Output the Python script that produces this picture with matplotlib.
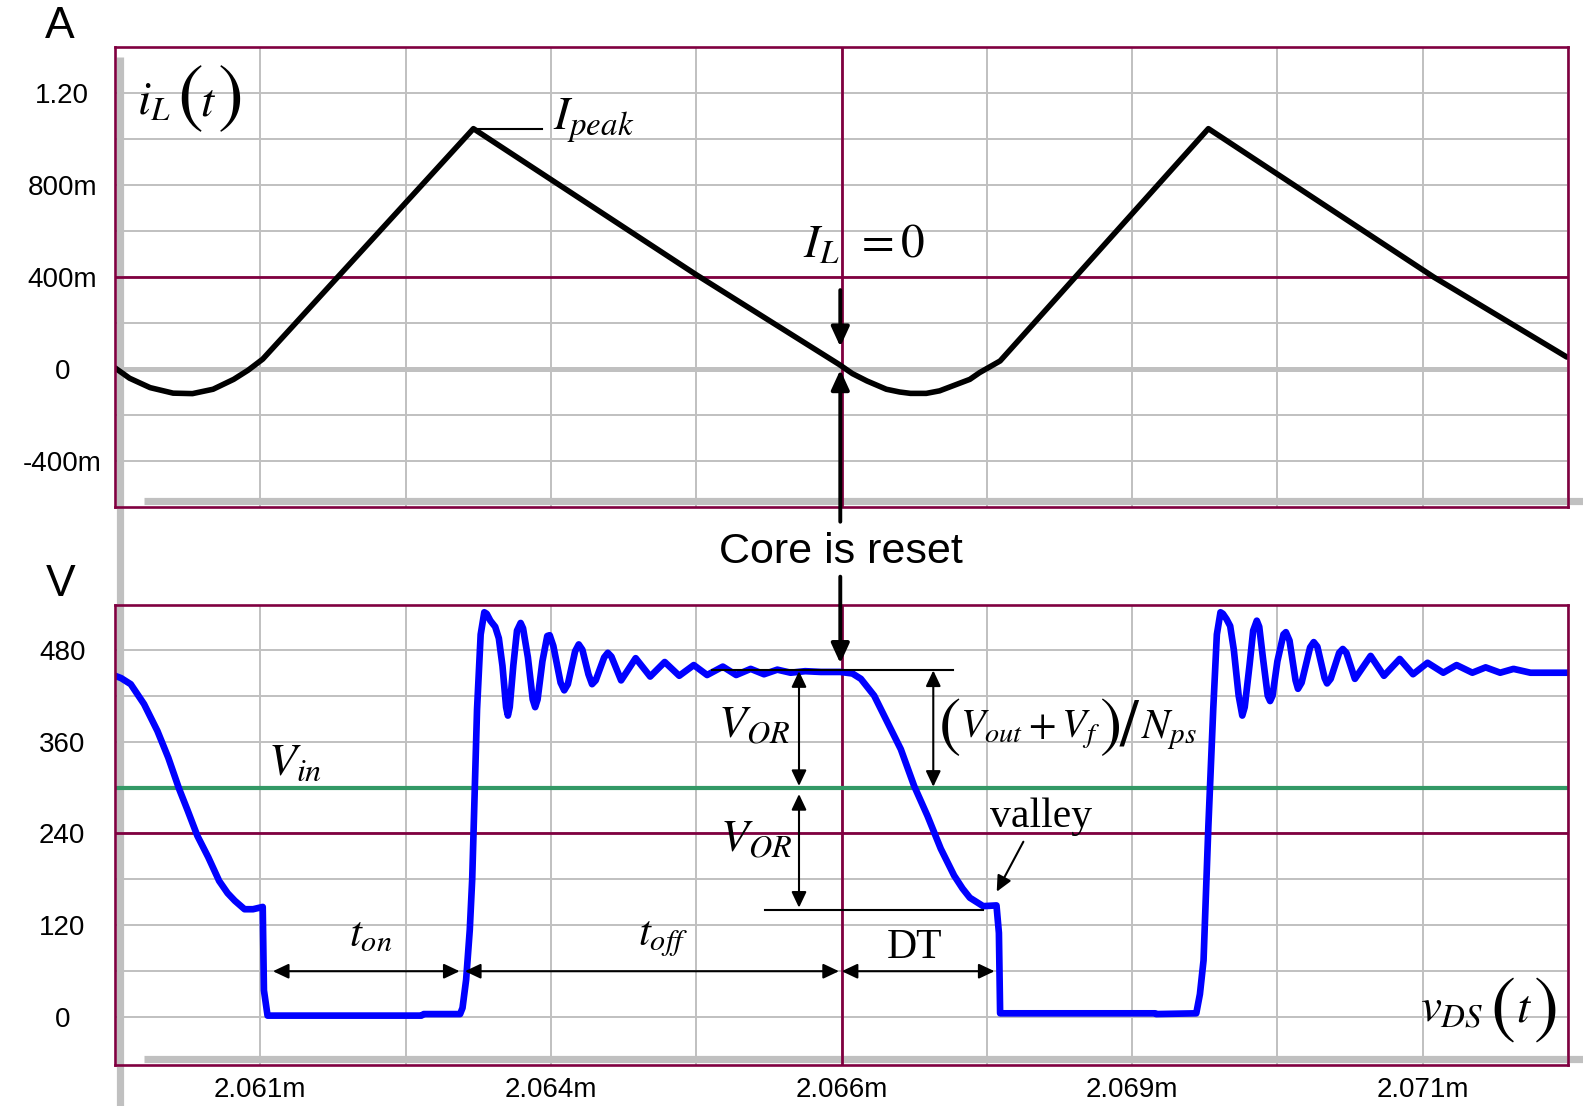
import matplotlib
matplotlib.use("Agg")
import matplotlib.pyplot as plt

plt.rcParams["font.family"] = ["Liberation Sans", "DejaVu Sans"]
plt.rcParams["mathtext.fontset"] = "stix"

W, H, DPI = 1583, 1106, 100

# ---------------- data (time in microseconds) ----------------
# inductor current i_L(t) [A]
t_il = [2060.20, 2060.32, 2060.49, 2060.68, 2060.84, 2061.01, 2061.18, 2061.30, 2061.42,
        2063.16, 2065.00, 2066.18, 2066.29, 2066.41, 2066.57, 2066.68, 2066.77, 2066.90,
        2067.01, 2067.15, 2067.26, 2067.34, 2067.51, 2069.23, 2071.09, 2072.19]
i_l = [0.005, -0.040, -0.081, -0.105, -0.107, -0.088, -0.045, -0.005, 0.043,
       1.045, 0.410, 0.020, -0.020, -0.052, -0.088, -0.100, -0.106, -0.106,
       -0.095, -0.067, -0.045, -0.016, 0.035, 1.045, 0.400, 0.052]

# drain-source voltage v_DS(t) [V], by segment
t_fall1 = [2060.20, 2060.25, 2060.33, 2060.44, 2060.55, 2060.64, 2060.73, 2060.80, 2060.88,
           2060.97, 2061.06, 2061.13, 2061.19, 2061.27, 2061.34, 2061.42, 2061.43, 2061.46]
v_fall1 = [446, 443, 435, 409, 374, 339, 298, 270, 237, 209, 178, 162, 152, 141, 141, 144, 35, 2]
t_on1 = [2062.73, 2062.75, 2063.05, 2063.07, 2063.10, 2063.13, 2063.15, 2063.19, 2063.22]
v_on1 = [2, 4, 4, 12, 49, 114, 180, 402, 500]
t_ring1 = [2063.25, 2063.27, 2063.30, 2063.34, 2063.37, 2063.40, 2063.43, 2063.445, 2063.46,
           2063.49, 2063.52, 2063.55, 2063.57, 2063.61, 2063.65, 2063.67, 2063.69, 2063.73,
           2063.77, 2063.79, 2063.82, 2063.88, 2063.91, 2063.94, 2064.00, 2064.03, 2064.06,
           2064.11, 2064.14, 2064.17, 2064.24, 2064.27, 2064.30, 2064.38, 2064.50, 2064.62,
           2064.74, 2064.86, 2064.98, 2065.09, 2065.22, 2065.33, 2065.45, 2065.56, 2065.67,
           2065.78, 2065.90, 2066.03, 2066.19]
v_ring1 = [529, 527, 518, 510, 495, 459, 405, 394, 405, 460, 505, 515, 508, 470, 415, 405,
           415, 465, 498, 499, 485, 437, 427, 435, 478, 487, 480, 448, 435, 440, 470, 476, 471,
           440, 469, 445, 464, 446, 460, 447, 458, 447, 455, 448, 454, 450, 452, 451, 451]
t_fall2 = [2066.29, 2066.36, 2066.47, 2066.58, 2066.69, 2066.80, 2066.91, 2067.02, 2067.13,
           2067.20, 2067.26, 2067.37, 2067.48, 2067.50, 2067.51]
v_fall2 = [449, 442, 420, 385, 350, 302, 263, 220, 185, 168, 156, 145, 146, 110, 5]
t_on2 = [2068.79, 2068.80, 2069.13, 2069.16, 2069.19, 2069.23, 2069.27, 2069.30]
v_on2 = [5, 4, 5, 30, 74, 250, 402, 500]
t_ring2 = [2069.33, 2069.35, 2069.38, 2069.41, 2069.44, 2069.48, 2069.51, 2069.53, 2069.57,
           2069.60, 2069.63, 2069.65, 2069.68, 2069.72, 2069.74, 2069.76, 2069.80, 2069.85,
           2069.87, 2069.90, 2069.95, 2069.97, 2070.00, 2070.07, 2070.10, 2070.13, 2070.19,
           2070.21, 2070.24, 2070.31, 2070.34, 2070.37, 2070.44, 2070.57, 2070.68, 2070.81,
           2070.92, 2071.04, 2071.17, 2071.28, 2071.41, 2071.52, 2071.64, 2071.75, 2071.89,
           2072.20]
v_ring2 = [529, 527, 520, 511, 480, 420, 394, 405, 460, 505, 518, 510, 470, 420, 413, 420,
           465, 500, 503, 492, 440, 429, 437, 483, 490, 484, 443, 436, 442, 476, 481, 476,
           442, 472, 446, 468, 448, 463, 450, 460, 450, 457, 450, 455, 450, 450]

t_vds = t_fall1 + t_on1 + t_ring1 + t_fall2 + t_on2 + t_ring2
v_ds = v_fall1 + v_on1 + v_ring1 + v_fall2 + v_on2 + v_ring2

v_in = 300
cursor_t = 2066.2
cursor_i = 0.4
cursor_v = 240

x_lim = (2060.2, 2072.2)
x_grid = [2061.4, 2062.6, 2063.8, 2065.0, 2066.2, 2067.4, 2068.6, 2069.8, 2071.0, 2072.2]
x_labels = ["2.061m", "", "2.064m", "", "2.066m", "", "2.069m", "", "2.071m", ""]
i_grid = [-0.4, -0.2, 0.0, 0.2, 0.4, 0.6, 0.8, 1.0, 1.2]
i_labels = ["-400m", "", "0", "", "400m", "", "800m", "", "1.20"]
v_grid = [0, 60, 120, 180, 240, 300, 360, 420, 480]
v_labels = ["0", "", "120", "", "240", "", "360", "", "480"]

MAROON = "#800040"
GRID = "#c0c0c0"
GREEN = "#339966"

fig = plt.figure(figsize=(W / DPI, H / DPI), dpi=DPI)
fig.patch.set_facecolor("white")
ax1 = fig.add_axes([115 / W, 1 - 507 / H, 1453 / W, 460 / H])
ax2 = fig.add_axes([115 / W, 1 - 1064.6 / H, 1453 / W, 460 / H])

for ax, ylim, yg, yl in ((ax1, (-0.6, 1.4), i_grid, i_labels), (ax2, (-62, 539), v_grid, v_labels)):
    ax.set_xlim(*x_lim)
    ax.set_ylim(*ylim)
    ax.set_xticks(x_grid)
    ax.set_yticks(yg)
    ax.set_yticklabels(yl)
    ax.grid(True, color=GRID, lw=1.4, zorder=0)
    ax.set_axisbelow(True)
    ax.tick_params(axis="both", length=0, labelsize=20)
    ax.tick_params(axis="y", pad=38)
    for lab in ax.get_yticklabels():
        lab.set_ha("center")
    for s in ax.spines.values():
        s.set_color(MAROON)
        s.set_linewidth(1.9)
        s.set_zorder(4)

ax1.set_xticklabels([""] * len(x_grid))
ax2.set_xticklabels(x_labels)
ax2.tick_params(axis="x", pad=9)

# axis-like gray bars
t_bar = 2060.245
ax1.plot([t_bar, t_bar], [1.3565, -1.024], color=GRID, lw=5.2, solid_capstyle="butt",
         clip_on=False, zorder=1.5)
ax2.plot([t_bar, t_bar], [539, -116], color=GRID, lw=5.2, solid_capstyle="butt",
         clip_on=False, zorder=1.5)
ax1.plot([2060.44, 2072.33], [-0.574, -0.574], color=GRID, lw=5.2, solid_capstyle="butt",
         clip_on=False, zorder=1.5)
ax2.plot([2060.44, 2072.33], [-55.3, -55.3], color=GRID, lw=5.2, solid_capstyle="butt",
         clip_on=False, zorder=1.5)
ax1.axhline(0, color=GRID, lw=3.6, zorder=1.2)

# cursors
ax1.axhline(cursor_i, color=MAROON, lw=2.0, zorder=1.6)
ax1.axvline(cursor_t, color=MAROON, lw=2.0, zorder=1.6)
ax2.axhline(cursor_v, color=MAROON, lw=2.0, zorder=1.6)
ax2.axvline(cursor_t, color=MAROON, lw=2.0, zorder=1.6)
ax2.axhline(v_in, color=GREEN, lw=3.0, zorder=1.7)

# waveforms
ax1.plot(t_il, i_l, color="black", lw=4.0, zorder=3, solid_joinstyle="round",
         solid_capstyle="round")
ax2.plot(t_vds, v_ds, color="#0000ff", lw=4.8, zorder=3, solid_joinstyle="round",
         solid_capstyle="round")


def arrow(ax, tail, tip, style="-|>", lw=1.5, hl=0.95, hw=0.45):
    ax.annotate("", xy=tip, xytext=tail, xycoords="data", textcoords="data",
                annotation_clip=False,
                arrowprops=dict(arrowstyle=f"{style},head_length={hl},head_width={hw}",
                                lw=lw, color="black", shrinkA=0, shrinkB=0,
                                mutation_scale=10),
                zorder=5)


# top panel annotations
ax1.plot([2063.15, 2063.73], [1.045, 1.045], color="black", lw=1.5, zorder=3)
arrow(ax1, (2066.19, 0.343), (2066.19, 0.097), lw=2.8, hl=1.2, hw=0.55)
arrow(ax1, (2066.19, -0.664), (2066.19, -0.004), lw=2.8, hl=1.2, hw=0.55)
arrow(ax2, (2066.19, 575.5), (2066.19, 462.3), lw=2.8, hl=1.2, hw=0.55)

# bottom panel annotations
ax2.plot([2065.128, 2067.119], [454, 454], color="black", lw=1.5, zorder=4)
ax2.plot([2065.568, 2067.369], [140, 140], color="black", lw=1.5, zorder=4)
arrow(ax2, (2065.849, 452), (2065.849, 302), style="<|-|>")
arrow(ax2, (2065.849, 291.5), (2065.849, 143), style="<|-|>")
arrow(ax2, (2066.958, 453), (2066.958, 301), style="<|-|>")
arrow(ax2, (2061.504, 60), (2063.046, 60), style="<|-|>")
arrow(ax2, (2063.09, 60), (2066.179, 60), style="<|-|>")
arrow(ax2, (2066.202, 60), (2067.464, 60), style="<|-|>")
arrow(ax2, (2067.702, 229.2), (2067.482, 163.9))


def ftext(x, y, s, **kw):
    fig.text(x / W, 1 - y / H, s, **kw)


ftext(60, 27, "A", fontsize=32, ha="center", va="center")
ftext(60.5, 584, "V", fontsize=32, ha="center", va="center")
ftext(841, 552, "Core is reset", fontsize=31, ha="center", va="center")

MS = 34
PAREN = dict(family="STIXGeneral", ha="center", va="center")
ftext(137, 115, r"$i_L$", fontsize=MS, ha="left", va="baseline")
ftext(190, 100, "(", fontsize=56, **PAREN)
ftext(208, 115, r"$t$", fontsize=MS, ha="center", va="baseline")
ftext(231, 100, ")", fontsize=56, **PAREN)

ftext(553, 130, r"$I_{peak}$", fontsize=MS, ha="left", va="baseline")
ftext(803, 258, r"$I_L\;\,=0$", fontsize=MS, ha="left", va="baseline")

ftext(268, 775, r"$V_{in}$", fontsize=33, ha="left", va="baseline")
ftext(349, 946, r"$t_{on}$", fontsize=31, ha="left", va="baseline")
ftext(638, 945, r"$t_{off}$", fontsize=31, ha="left", va="baseline")
ftext(915, 958, "DT", fontsize=30, family="Liberation Serif", ha="center", va="baseline")
ftext(718, 737, r"$V_{OR}$", fontsize=33, ha="left", va="baseline")
ftext(720, 852, r"$V_{OR}$", fontsize=33, ha="left", va="baseline")

# (V_out + V_f) / N_ps  with large delimiters
ftext(950, 729, "(", fontsize=48, **PAREN)
ftext(960, 738, r"$V_{out}+V_f$", fontsize=29, ha="left", va="baseline")
ftext(1110, 729, ")", fontsize=48, **PAREN)
ftext(1129, 730, "/", fontsize=48, **PAREN)
ftext(1141, 738, r"$N_{ps}$", fontsize=30, ha="left", va="baseline")

ftext(990, 826.7, "valley", fontsize=30, family="Liberation Serif", ha="left", va="baseline")

ftext(1420, 1021.7, r"$v_{DS}$", fontsize=MS, ha="left", va="baseline")
ftext(1502.5, 1011.5, "(", fontsize=54, **PAREN)
ftext(1523.5, 1021.7, r"$t$", fontsize=MS, ha="center", va="baseline")
ftext(1546.5, 1011.5, ")", fontsize=54, **PAREN)

fig.savefig("out.png", dpi=DPI, facecolor="white")
